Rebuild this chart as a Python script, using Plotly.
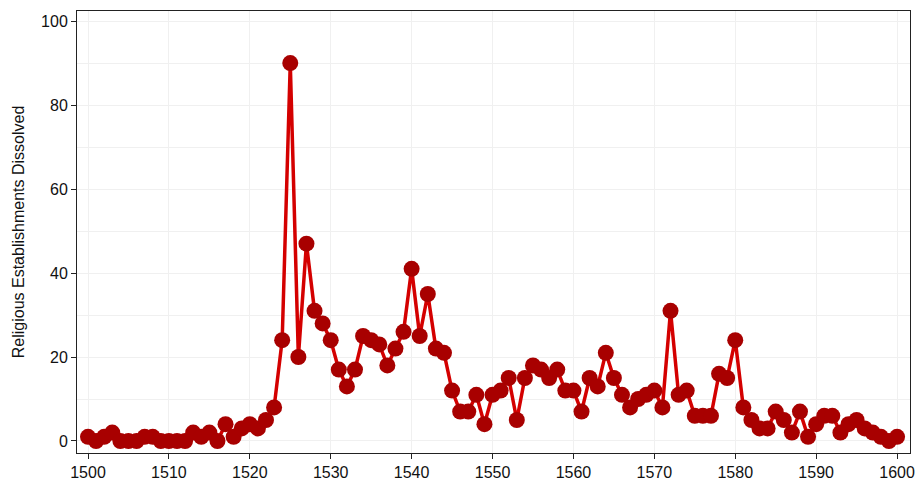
import plotly.graph_objects as go

years = list(range(1500, 1601))
dissolved = [
    1, 0, 1, 2, 0, 0, 0, 1, 1, 0,
    0, 0, 0, 2, 1, 2, 0, 4, 1, 3,
    4, 3, 5, 8, 24, 90, 20, 47, 31, 28,
    24, 17, 13, 17, 25, 24, 23, 18, 22, 26,
    41, 25, 35, 22, 21, 12, 7, 7, 11, 4,
    11, 12, 15, 5, 15, 18, 17, 15, 17, 12,
    12, 7, 15, 13, 21, 15, 11, 8, 10, 11,
    12, 8, 31, 11, 12, 6, 6, 6, 16, 15,
    24, 8, 5, 3, 3, 7, 5, 2, 7, 1,
    4, 6, 6, 2, 4, 5, 3, 2, 1, 0,
    1,
]

fig = go.Figure()
fig.add_trace(go.Scatter(
    x=years, y=dissolved, mode='lines+markers',
    line=dict(color='#d40000', width=3.5),
    marker=dict(color='#a80000', size=16),
    showlegend=False,
))

axis_common = dict(
    showline=True, linecolor='#222222', linewidth=1, mirror=True,
    ticks='outside', ticklen=5, tickcolor='#222222',
    gridcolor='#f0f0f0', zeroline=False, automargin=False,
    ticklabeloverflow='allow',
    tickfont=dict(size=16, color='#111111'),
)

fig.update_layout(
    width=917, height=478,
    margin=dict(l=77, r=7, t=11, b=25),
    plot_bgcolor='white', paper_bgcolor='white',
    font=dict(family='Liberation Sans, Arial, sans-serif'),
    xaxis=dict(range=[1498.64, 1601.6], dtick=10, tick0=1500, **axis_common),
    yaxis=dict(range=[-2.86, 102.4], dtick=20, tick0=0,
               minor=dict(dtick=10, showgrid=True, gridcolor='#f0f0f0'),
               title=dict(text='Religious Establishments Dissolved', font=dict(size=16, color='#111111'), standoff=12),
               **axis_common),
)

# drop the default page margin so the figure fills the window exactly
fig.write_html("out.html", config={'displayModeBar': False},
               post_script="document.body.style.margin='0';document.body.style.overflow='hidden';")
